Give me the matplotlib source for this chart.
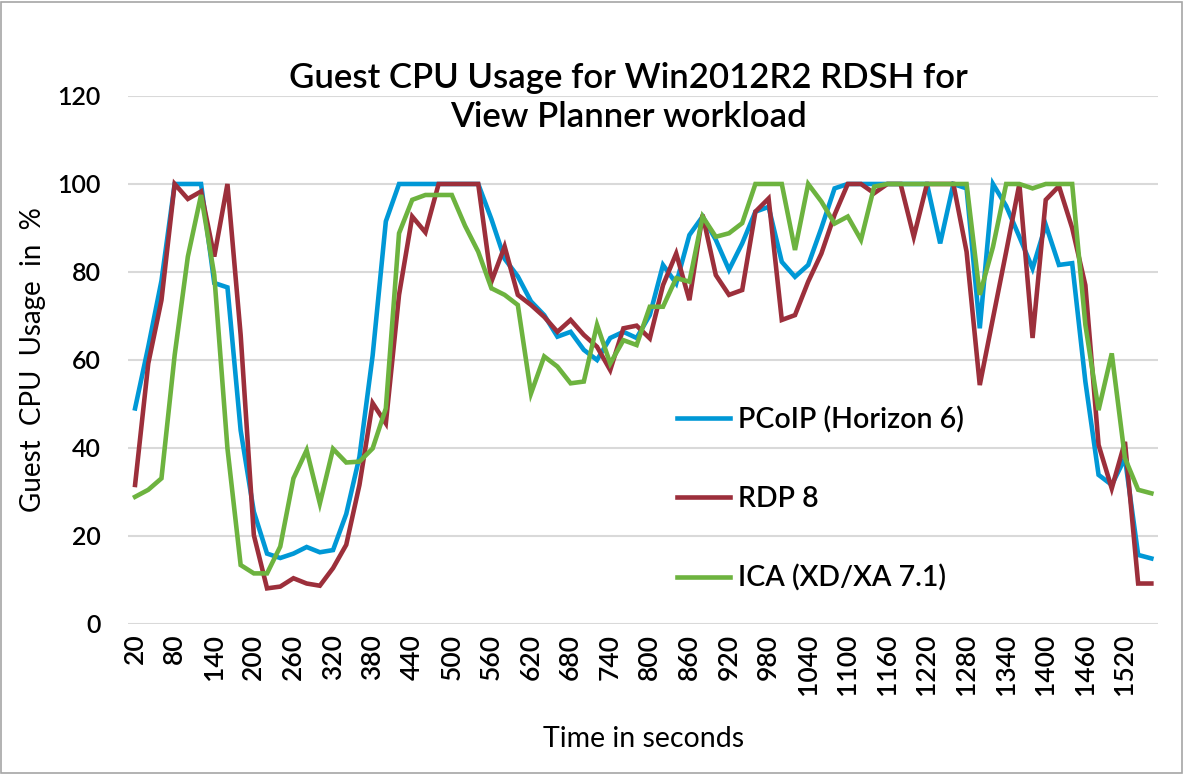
import matplotlib
matplotlib.use('Agg')
import matplotlib.pyplot as plt
from matplotlib.patches import Rectangle

plt.rcParams['font.family'] = ['Lato', 'DejaVu Sans']
plt.rcParams['font.weight'] = 'semibold'

# Vrijeme (s), svakih 20 s
seconds = list(range(20, 1580, 20))

pcoip = [49, 63, 78, 100, 100, 100, 77.5, 76.5, 44, 25.5,
         16, 15, 16, 17.5, 16.3, 16.8, 25, 38, 61, 91.5,
         100, 100, 100, 100, 100, 100, 100, 92, 83, 79,
         73.3, 70.2, 65.3, 66.4, 62.3, 60, 65, 66.4, 65, 70.2,
         81.6, 77.4, 88.4, 92.6, 87.3, 80.5, 86.5, 93.7, 94.8, 82.3,
         78.9, 81.6, 90, 99, 100, 100, 100, 100, 100, 100,
         100, 86.5, 100, 99, 67.2, 100, 95, 88, 80.8, 90.7,
         81.6, 82, 55.1, 33.9, 31.6, 37.7, 15.7, 14.9]

rdp = [31.6, 59.2, 73.6, 100, 96.6, 98.3, 83.5, 100, 65.7, 20.2,
       8.1, 8.5, 10.4, 9.2, 8.7, 12.7, 18, 31.6, 50.2, 45.6,
       74.8, 92.6, 89, 100, 100, 100, 100, 77.8, 85.8, 74.8,
       72.5, 69.8, 66.4, 69.1, 65.7, 63, 57.7, 67.2, 67.8, 64.9,
       77, 84.2, 73.6, 93, 79.3, 74.8, 75.9, 93.7, 96.7, 69.1,
       70.2, 77.8, 84.2, 93, 100, 100, 97.9, 100, 100, 88,
       100, 100, 100, 84.6, 54.3, 69.5, 84.6, 100, 65, 96.4,
       99.5, 90, 77, 40.7, 30.8, 41.4, 9.2, 9.2]

ica = [28.9, 30.5, 33.1, 61.1, 83.5, 97.5, 79.3, 39.9, 13.4, 11.5,
       11.5, 17.6, 33.1, 39.5, 27.4, 39.8, 36.7, 36.9, 39.9, 49,
       88.8, 96.4, 97.5, 97.5, 97.5, 90.5, 84.6, 76.3, 74.8, 72.5,
       52.4, 60.8, 58.5, 54.7, 55.1, 68, 59.2, 64.5, 63.4, 72.1,
       72.1, 78.6, 77.8, 92.6, 88, 88.8, 91.1, 100, 100, 100,
       85, 100, 96, 91, 92.6, 87.3, 99.4, 100, 100, 100,
       100, 100, 100, 100, 74.8, 85.7, 100, 100, 99, 100,
       100, 100, 68, 48.6, 61.5, 37.7, 30.5, 29.7]

series_names = ['PCoIP (Horizon 6)', 'RDP 8', 'ICA (XD/XA 7.1)']
colors = ['#0098d6', '#9c2f3b', '#6db33f']

fig = plt.figure(figsize=(11.84, 7.74), dpi=100)
ax = fig.add_axes([0.1085, 0.1938, 0.8695, 0.6822])

for vals, name, c in zip([pcoip, rdp, ica], series_names, colors):
    ax.plot(seconds, vals, color=c, lw=3.3, label=name, solid_joinstyle='miter')

ax.set_xlim(10, 1570)
ax.set_ylim(0, 120)
ax.set_yticks(range(0, 121, 20))
ax.set_xticks(seconds[::3])
ax.set_xticklabels([str(s) for s in seconds[::3]], rotation=90, fontsize=19)
ax.tick_params(axis='y', labelsize=18, length=0, pad=20)
ax.tick_params(axis='x', length=0, pad=7)
ax.grid(axis='y', color='#d9d9d9', lw=1.5)
ax.set_axisbelow(True)
for s in ax.spines.values():
    s.set_visible(False)

ax.set_ylabel('Guest  CPU  Usage  in  %', fontsize=20, labelpad=8)
ax.set_xlabel('Time in seconds', fontsize=20.5, labelpad=22)

fig.text(0.531, 0.874, 'Guest CPU Usage for Win2012R2 RDSH for\nView Planner workload',
         ha='center', va='center', fontsize=25, linespacing=1.3)

ax.legend(loc='upper left', bbox_to_anchor=(0.572, 0.475), bbox_transform=fig.transFigure,
          frameon=False, fontsize=20.5, handlelength=1.85, handletextpad=0.3,
          labelspacing=1.85, borderpad=0, borderaxespad=0)

fig.patches.append(Rectangle((0.001, 0.001), 0.997, 0.997, transform=fig.transFigure,
                             fill=False, edgecolor='#a6a6a6', lw=1.2))

fig.savefig('out.png', dpi=100)
